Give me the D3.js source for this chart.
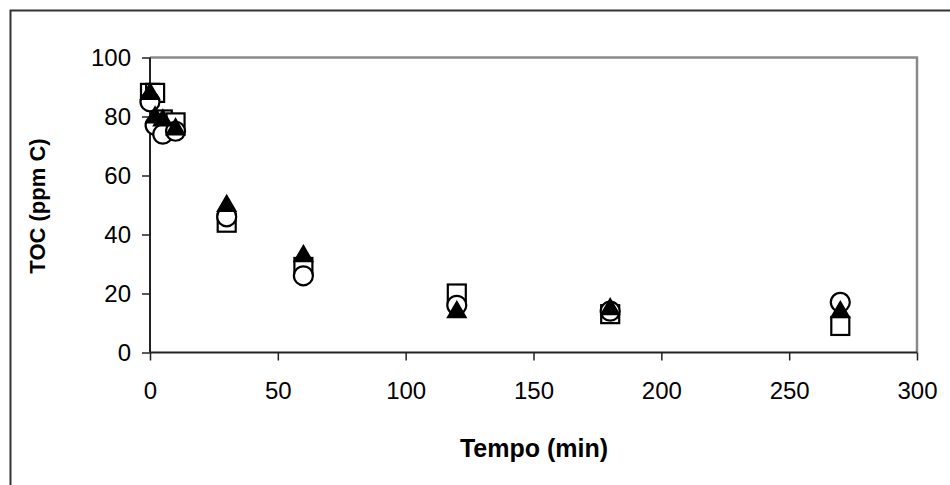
<!DOCTYPE html>
<html>
<head>
<meta charset="utf-8">
<script src="https://cdn.jsdelivr.net/npm/d3@7"></script>
<style>
  html, body { margin: 0; padding: 0; background: #fff; }
  svg { display: block; }
  text { font-family: "Liberation Sans", Arial, sans-serif; fill: #000; }
</style>
</head>
<body>
<svg id="chart" width="950" height="485"></svg>
<script>
// Sampling times (min)
const tempo = [0, 2, 5, 10, 30, 60, 120, 180, 270];
// TOC (ppm C) for the three runs
const tocSquare   = [88, 88, 79, 78, 44, 29, 20, 13, 9];
const tocCircle   = [85, 77, 74, 75, 46, 26, 16, 14, 17];
const tocTriangle = [88, 80, 79, 76, 50, 33, 14, 15, 14];
// Axis ticks
const xTicks = [0, 50, 100, 150, 200, 250, 300];
const yTicks = [0, 20, 40, 60, 80, 100];

const svg = d3.select("#chart");
const plot = { left: 150, right: 917, top: 57.5, bottom: 352.5 };

const x = d3.scaleLinear().domain([0, 300]).range([plot.left, plot.right]);
const y = d3.scaleLinear().domain([0, 100]).range([plot.bottom, plot.top]);

// Outer chart frame (runs off the right and bottom edges)
svg.append("rect")
  .attr("x", 10.5).attr("y", 10.5)
  .attr("width", 960).attr("height", 500)
  .attr("fill", "none").attr("stroke", "#333").attr("stroke-width", 2);

// Plot area border: grey top and right edges
svg.append("path")
  .attr("d", `M${plot.left},${plot.top}H${plot.right}V${plot.bottom}`)
  .attr("fill", "none").attr("stroke", "#8a8a8a").attr("stroke-width", 2.5);

// Axes
const xAxis = svg.append("g")
  .attr("transform", `translate(0,${plot.bottom})`)
  .call(d3.axisBottom(x).tickValues(xTicks).tickSize(8).tickPadding(21));
const yAxis = svg.append("g")
  .attr("transform", `translate(${plot.left},0)`)
  .call(d3.axisLeft(y).tickValues(yTicks).tickSize(8).tickPadding(11));

[xAxis, yAxis].forEach(g => {
  g.attr("font-size", null).attr("font-family", null);
  g.select(".domain").attr("stroke", "#222").attr("stroke-width", 2);
  g.selectAll(".tick line").attr("stroke", "#222").attr("stroke-width", 1.5);
  g.selectAll(".tick text")
    .style("font-family", "'Liberation Sans', Arial, sans-serif")
    .style("font-size", "24px").attr("fill", "#000");
});
xAxis.select(".domain").attr("d", `M${plot.left},0H${plot.right}`);
yAxis.select(".domain").attr("d", `M0,${plot.bottom}V${plot.top}`);

// Axis titles
svg.append("text")
  .attr("x", 534).attr("y", 457)
  .attr("text-anchor", "middle")
  .style("font-size", "25px").style("font-weight", "bold")
  .text("Tempo (min)");
svg.append("text")
  .attr("transform", "translate(45,206) rotate(-90)")
  .attr("text-anchor", "middle")
  .style("font-size", "22px").style("font-weight", "bold")
  .text("TOC (ppm C)");

const marks = svg.append("g");

// Open squares
marks.selectAll("rect.sq")
  .data(tempo.map((t, i) => [t, tocSquare[i]]))
  .join("rect").attr("class", "sq")
  .attr("x", d => x(d[0]) - 9).attr("y", d => y(d[1]) - 9)
  .attr("width", 18).attr("height", 18)
  .attr("fill", "#fff").attr("stroke", "#000").attr("stroke-width", 2.2);

// Open circles
marks.selectAll("circle.ci")
  .data(tempo.map((t, i) => [t, tocCircle[i]]))
  .join("circle").attr("class", "ci")
  .attr("cx", d => x(d[0])).attr("cy", d => y(d[1]))
  .attr("r", 9.5)
  .attr("fill", "#fff").attr("stroke", "#000").attr("stroke-width", 2.2);

// Filled triangles
const tri = d3.symbol().type(d3.symbolTriangle).size(150);
marks.selectAll("path.tr")
  .data(tempo.map((t, i) => [t, tocTriangle[i]]))
  .join("path").attr("class", "tr")
  .attr("transform", d => `translate(${x(d[0])},${y(d[1]) + 1})`)
  .attr("d", tri)
  .attr("fill", "#000").attr("stroke", "#000").attr("stroke-width", 1.5);
</script>
</body>
</html>
